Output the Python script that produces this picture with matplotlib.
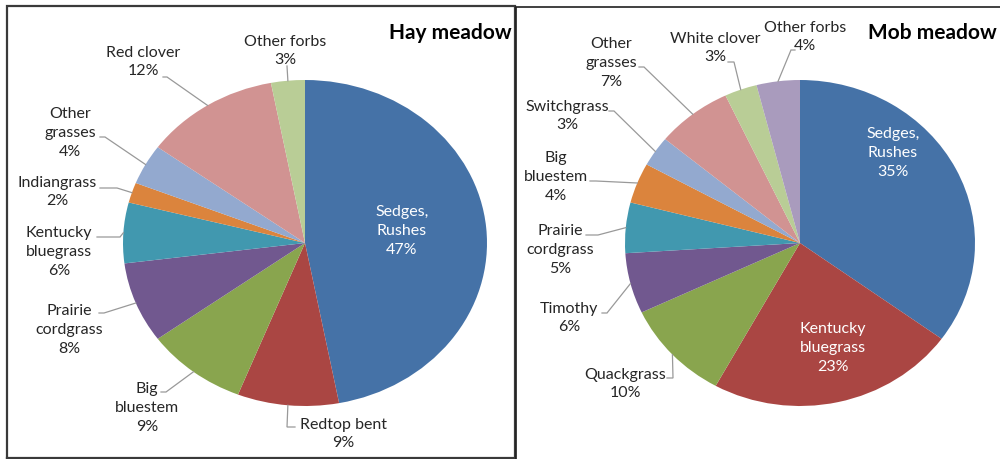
import matplotlib.pyplot as plt
from matplotlib.transforms import Affine2D
import numpy as np

plt.rcParams['font.family'] = ['Lato', 'DejaVu Sans']

# Hay meadow
hay_labels = ['Sedges,\nRushes', 'Redtop bent', 'Big\nbluestem', 'Prairie\ncordgrass',
              'Kentucky\nbluegrass', 'Indiangrass', 'Other\ngrasses', 'Red clover', 'Other forbs']
hay_values = [47, 9, 9, 8, 6, 2, 4, 12, 3]

# Mob meadow
mob_labels = ['Sedges,\nRushes', 'Kentucky\nbluegrass', 'Quackgrass', 'Timothy',
              'Prairie\ncordgrass', 'Big\nbluestem', 'Switchgrass', 'Other\ngrasses',
              'White clover', 'Other forbs']
mob_values = [35, 23, 10, 6, 5, 4, 3, 7, 3, 4]

# excel 2007 palette
hay_colors = ['#4572A7', '#AA4643', '#89A54E', '#71588F', '#4198AF',
              '#DB843D', '#93A9CF', '#D19392', '#B9CD96']
mob_colors = ['#4572A7', '#AA4643', '#89A54E', '#71588F', '#4198AF',
              '#DB843D', '#93A9CF', '#D19392', '#B9CD96', '#A99BBD']

# label layout in pixels: text centre, leader start, elbow (None = inside label)
hay_layout = [
    ((402, 231), None, None),
    ((343, 434), (295, 427), (287, 427)),
    ((147, 408), (161, 392), (166, 392)),
    ((69, 330), (99, 313), (104, 313)),
    ((59, 252), (97, 237), (120, 237)),
    ((57, 192), (100, 188), (117, 188)),
    ((70, 133), (100, 137), (105, 137)),
    ((143, 62), (163, 77), (167, 77)),
    ((285, 51), (287, 66), None),
]
mob_layout = [
    ((893, 153), None, None),
    ((833, 348), None, None),
    ((625, 384), (667, 378), (673, 378)),
    ((569, 318), (602, 313), (607, 313)),
    ((560, 250), (586, 235), (598, 235)),
    ((556, 177), (590, 181), (596, 181)),
    ((567, 116), (609, 111), (614, 111)),
    ((611, 63), (639, 67), (644, 67)),
    ((715, 48), (728, 62), (734, 62)),
    ((805, 37), (795, 50), (791, 50)),
]

FS = 11.5
LS = 1.42


def draw_pie(ax, values, labels, colors, layout, cx, cy, rx, ry):
    wedges, _ = ax.pie(values, colors=colors, startangle=90, counterclock=False,
                       radius=1, center=(0, 0), wedgeprops=dict(linewidth=0))
    tr = Affine2D().scale(rx, -ry).translate(cx, cy) + ax.transData
    for w in wedges:
        w.set_transform(tr)
    total = float(sum(values))
    cum = np.cumsum([0] + values)
    for i, (lab, v) in enumerate(zip(labels, values)):
        txt = '%s\n%d%%' % (lab, round(100 * v / total))
        pos, start, elbow = layout[i]
        if start is None:
            ax.text(pos[0], pos[1], txt, ha='center', va='center', color='white',
                    fontsize=FS, linespacing=LS)
            continue
        ax.text(pos[0], pos[1], txt, ha='center', va='center', color='#262626',
                fontsize=FS, linespacing=LS)
        mid = (cum[i] + v / 2.0) / total * 2 * np.pi
        ex = cx + rx * np.sin(mid)
        ey = cy - ry * np.cos(mid)
        pts = [start] + ([elbow] if elbow else []) + [(ex, ey)]
        ax.plot([p[0] for p in pts], [p[1] for p in pts], color='#999999', lw=0.9,
                solid_joinstyle='miter')


fig = plt.figure(figsize=(10, 4.59), dpi=100)
ax = fig.add_axes([0, 0, 1, 1])

draw_pie(ax, hay_values, hay_labels, hay_colors, hay_layout, 305, 243, 182, 163)
draw_pie(ax, mob_values, mob_labels, mob_colors, mob_layout, 800, 243, 175, 163)

ax.text(512, 33, 'Hay meadow', ha='right', va='center', fontsize=15,
        fontweight='bold', color='black')
ax.text(997, 33, 'Mob meadow', ha='right', va='center', fontsize=15,
        fontweight='bold', color='black')

# panel borders
ax.plot([7, 7, 515, 515, 7], [458, 6, 6, 458, 458], color='#3A3A3A', lw=1.6,
        solid_joinstyle='miter')
ax.plot([516, 516, 1000], [459, 7, 7], color='#202020', lw=1.2,
        solid_joinstyle='miter')

ax.set_aspect('auto')
ax.set_xlim(0, 1000)
ax.set_ylim(459, 0)
ax.axis('off')

fig.savefig('out.png', dpi=100)
